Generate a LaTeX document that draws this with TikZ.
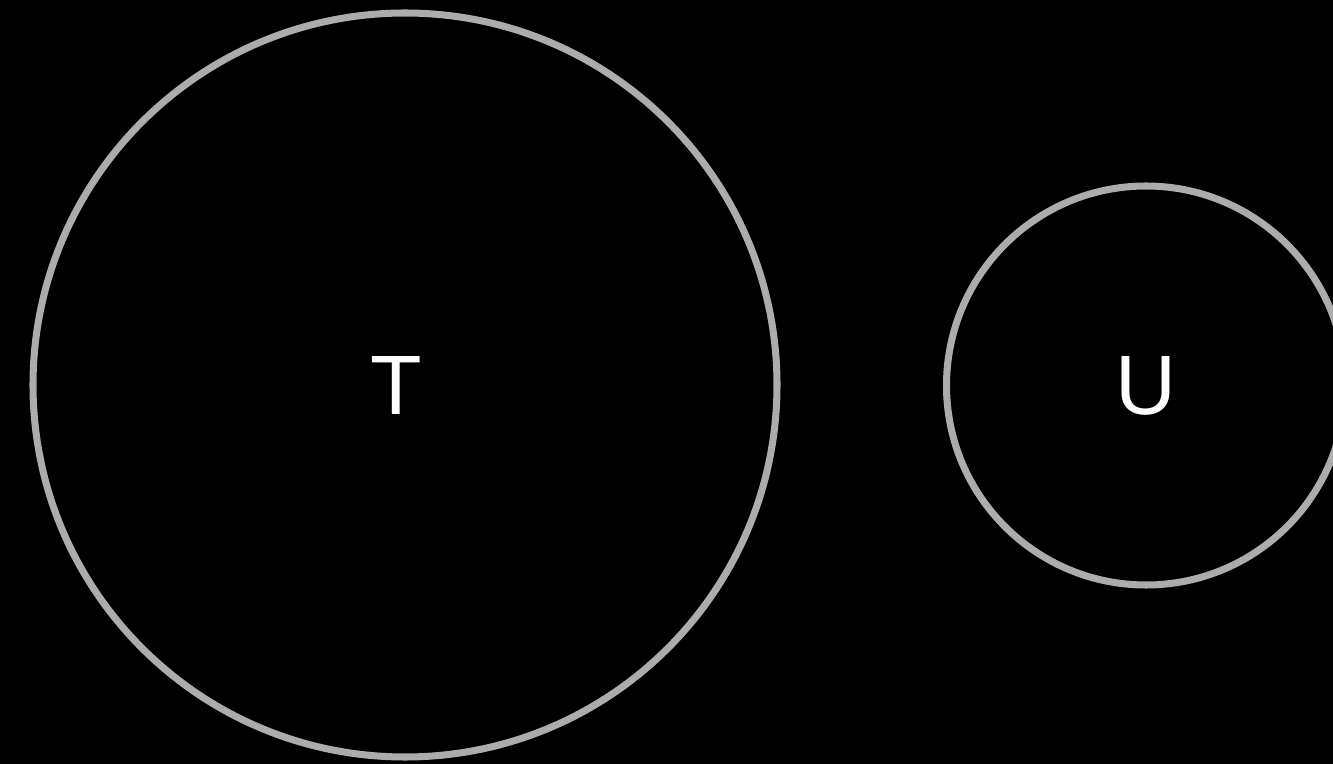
\documentclass[tikz,border=0pt]{standalone}
\usepackage{fontspec}
\setmainfont{Liberation Sans}
\usetikzlibrary{positioning}

\begin{document}
\begin{tikzpicture}[
    bubble/.style={draw=gray!65, line width=4pt, circle, inner sep=0pt},
    tag/.style={text=white, font=\fontsize{48}{58}\selectfont},
]
\fill[black] (0,0) rectangle (26.66,-15.28);
\useasboundingbox (0,0) rectangle (26.66,-15.28);

\node[bubble, minimum size=14.88cm,
      label={[tag, xshift=-0.18cm]center:T}] (setT) at (8.10,-7.70) {};
\node[bubble, minimum size=7.98cm, tag] (setU) at (22.92,-7.71) {U};
\end{tikzpicture}
\end{document}
